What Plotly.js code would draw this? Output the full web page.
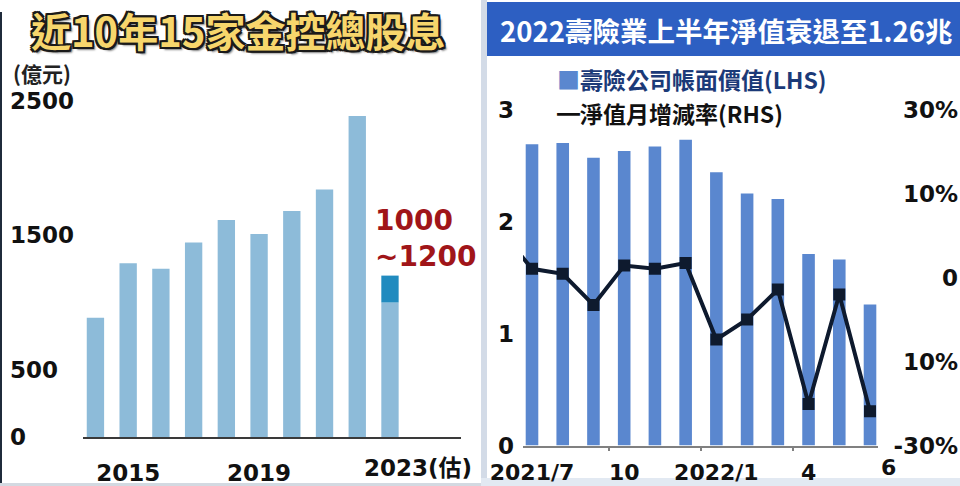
<!DOCTYPE html>
<html>
<head>
<meta charset="utf-8">
<script src="https://cdn.plot.ly/plotly-3.0.1.min.js"></script>
<style>html,body{margin:0;padding:0;background:#fff;}#chart{width:960px;height:486px;}</style>
</head>
<body>
<div id="chart"></div>
<script>
// ---- Left chart data: 15 financial holding companies, total dividends (億元)
const years = [2014, 2015, 2016, 2017, 2018, 2019, 2020, 2021, 2022, 2023];
const dividends = [887, 1291, 1251, 1447, 1613, 1509, 1680, 1841, 2386, 1000];
const estYear = 2023;
const estLow = 1000;
const estHigh = 1200;
const leftYTicks = [0, 500, 1500, 2500];
const leftXTickVals = [2015, 2019];
const leftXTickText = ['2015', '2019'];
const estTickLabel = '2023(估)';
const estRangeLabel = '1000<br>~1200';

// ---- Right chart data: life insurers book value (兆, LHS) & monthly change (%, RHS)
const months = ['2021/7', '2021/8', '2021/9', '2021/10', '2021/11', '2021/12',
                '2022/1', '2022/2', '2022/3', '2022/4', '2022/5', '2022/6'];
const bookValue = [2.69, 2.70, 2.57, 2.63, 2.67, 2.73, 2.44, 2.25, 2.20, 1.71, 1.66, 1.26];
const prevMonthRate = 8.2; // 2021/6, only partly visible at the left edge
const monthlyRate = [1.55, 0.66, -4.9, 2.14, 1.55, 2.6, -11.07, -7.5, -2.14, -22.6, -3.04, -23.9];
const rightXTickVals = [0, 3, 6, 9];
const rightXTickText = ['2021/7', '10', '2022/1', '4'];
const lastMonthIndex = 11;
const lastMonthLabel = '6';
const lhsTicks = [0, 1, 2, 3];
const rhsTickVals = [-30, -15, 0, 15, 30];
const rhsTickText = ['-30%', '10%', '0', '10%', '30%'];

const NUM = 'DejaVu Sans, "Noto Sans CJK TC", sans-serif';
const CJK = '"Noto Sans CJK TC", "Noto Sans CJK SC", sans-serif';
const W = 960, H = 486;
const px = v => v / W;
const py = v => (H - v) / H;

const idx = months.map((_, i) => i);

const traces = [
  {
    type: 'bar', x: years, y: dividends, xaxis: 'x', yaxis: 'y',
    marker: {color: '#8dbbd9'}, width: 0.53, hoverinfo: 'skip'
  },
  {
    type: 'bar', x: [estYear], y: [estHigh - estLow], base: [estLow], xaxis: 'x', yaxis: 'y',
    marker: {color: '#218bbf'}, width: 0.53, hoverinfo: 'skip'
  },
  {
    type: 'bar', x: idx, y: bookValue, xaxis: 'x2', yaxis: 'y2',
    marker: {color: '#5a87cf'}, width: 0.41, hoverinfo: 'skip'
  },
  {
    type: 'scatter', mode: 'lines+markers', x: [-1].concat(idx), y: [prevMonthRate].concat(monthlyRate),
    xaxis: 'x2', yaxis: 'y3',
    line: {color: '#0e1a2e', width: 4},
    marker: {symbol: 'square', size: 12, color: '#0e1a2e'},
    hoverinfo: 'skip'
  }
];

const numFont = {family: NUM, size: 23, weight: 'bold', color: '#111'};

const layout = {
  width: W, height: H,
  margin: {l: 0, r: 0, t: 0, b: 0},
  paper_bgcolor: '#ffffff', plot_bgcolor: 'rgba(0,0,0,0)',
  showlegend: false, barmode: 'overlay',
  xaxis: {
    domain: [px(83), px(461)], range: [2013.62, 2025.17], anchor: 'y',
    tickmode: 'array', tickvals: leftXTickVals, ticktext: leftXTickText,
    ticks: '', showgrid: false, zeroline: false,
    showline: true, linecolor: '#3a3a3a', linewidth: 2,
    tickfont: numFont, ticklabelstandoff: 14
  },
  yaxis: {
    domain: [py(437), py(87.3)], range: [0, 2600],
    anchor: 'free', position: px(9), side: 'right',
    tickmode: 'array', tickvals: leftYTicks,
    ticks: '', showgrid: false, zeroline: false, showline: false,
    tickfont: numFont
  },
  xaxis2: {
    domain: [px(523), px(878)], range: [-0.293, 11.26], anchor: 'y2',
    tickmode: 'array', tickvals: rightXTickVals, ticktext: rightXTickText,
    ticks: '', showgrid: false, zeroline: false,
    showline: true, linecolor: '#808080', linewidth: 2,
    tickfont: {family: NUM, size: 22, weight: 'bold', color: '#111'},
    ticklabelstandoff: 6,
    minor: {tickmode: 'linear', tick0: -0.5, dtick: 3, ticks: 'outside', ticklen: 3, tickwidth: 2, tickcolor: '#808080'}
  },
  yaxis2: {
    domain: [py(445.5), py(109.5)], range: [0, 3], anchor: 'x2', side: 'left',
    tickmode: 'array', tickvals: lhsTicks,
    ticks: '', showgrid: false, zeroline: false, showline: false,
    tickfont: numFont, ticklabelstandoff: 8
  },
  yaxis3: {
    overlaying: 'y2', range: [-30, 30], anchor: 'free', position: px(958), side: 'left',
    tickmode: 'array', tickvals: rhsTickVals, ticktext: rhsTickText,
    ticks: '', showgrid: false, zeroline: false, showline: false,
    tickfont: numFont
  },
  shapes: [
    {type: 'rect', xref: 'paper', yref: 'paper', x0: px(487), x1: 1, y0: py(56), y1: py(2), fillcolor: '#2d5fc2', line: {width: 0}, layer: 'below'},
    {type: 'rect', xref: 'paper', yref: 'paper', x0: px(481), x1: px(487), y0: 0, y1: 1, fillcolor: '#d3dbe7', line: {width: 0}, layer: 'below'},
    {type: 'rect', xref: 'paper', yref: 'paper', x0: px(481), x1: 1, y0: 0, y1: py(478), fillcolor: '#e2e9f2', line: {width: 0}, layer: 'below'},
    {type: 'rect', xref: 'paper', yref: 'paper', x0: 0, x1: px(2), y0: py(484), y1: py(12), fillcolor: '#1f2b3b', line: {width: 0}, layer: 'below'},
    {type: 'rect', xref: 'paper', yref: 'paper', x0: 0, x1: px(481), y0: py(486), y1: py(483), fillcolor: '#d3d9e1', line: {width: 0}, layer: 'below'}
  ],
  annotations: [
    {
      text: '近10年15家金控總股息', xref: 'paper', yref: 'paper', x: px(238), y: py(30),
      xanchor: 'center', yanchor: 'middle', showarrow: false,
      font: {family: CJK, size: 40, weight: 'bold', color: '#f7d66c',
             shadow: '2px 0 0 #1a1a1a, -2px 0 0 #1a1a1a, 0 2px 0 #1a1a1a, 0 -2px 0 #1a1a1a, 2px 2px 0 #1a1a1a, -2px -2px 0 #1a1a1a, 2px -2px 0 #1a1a1a, -2px 2px 0 #1a1a1a, 3px 3px 2px rgba(0,0,0,0.5)'}
    },
    {
      text: '(億元)', xref: 'paper', yref: 'paper', x: px(11), y: py(73),
      xanchor: 'left', yanchor: 'middle', showarrow: false,
      font: {family: CJK, size: 21, weight: 'bold', color: '#222'}
    },
    {
      text: estRangeLabel, xref: 'x', yref: 'paper', x: estYear, xshift: -17, y: py(238),
      xanchor: 'left', yanchor: 'middle', align: 'left', showarrow: false,
      font: {family: NUM, size: 28, weight: 'bold', color: '#a01519'}
    },
    {
      text: estTickLabel, xref: 'x', yref: 'paper', x: estYear, xshift: -28, y: py(468),
      xanchor: 'left', yanchor: 'middle', showarrow: false,
      font: numFont
    },
    {
      text: lastMonthLabel, xref: 'x2', yref: 'paper', x: lastMonthIndex, xshift: 18, y: py(467),
      xanchor: 'center', yanchor: 'middle', showarrow: false,
      font: {family: NUM, size: 22, weight: 'bold', color: '#111'}
    },
    {
      text: '2022壽險業上半年淨值衰退至1.26兆', xref: 'paper', yref: 'paper', x: px(726), y: py(30),
      xanchor: 'center', yanchor: 'middle', showarrow: false,
      font: {family: CJK, size: 27.5, weight: 'bold', color: '#ffffff'}
    },
    {
      text: '<span style="color:#5a87cf">■</span>壽險公司帳面價值(LHS)',
      xref: 'paper', yref: 'paper', x: px(555), y: py(79),
      xanchor: 'left', yanchor: 'middle', showarrow: false,
      font: {family: CJK, size: 23, weight: 'bold', color: '#1b3a78'}
    },
    {
      text: '<b>━</b>淨值月增減率(RHS)',
      xref: 'paper', yref: 'paper', x: px(555), y: py(112.5),
      xanchor: 'left', yanchor: 'middle', showarrow: false,
      font: {family: CJK, size: 23, weight: 'bold', color: '#111'}
    }
  ]
};

Plotly.newPlot('chart', traces, layout, {staticPlot: true, displayModeBar: false});
</script>
</body>
</html>
